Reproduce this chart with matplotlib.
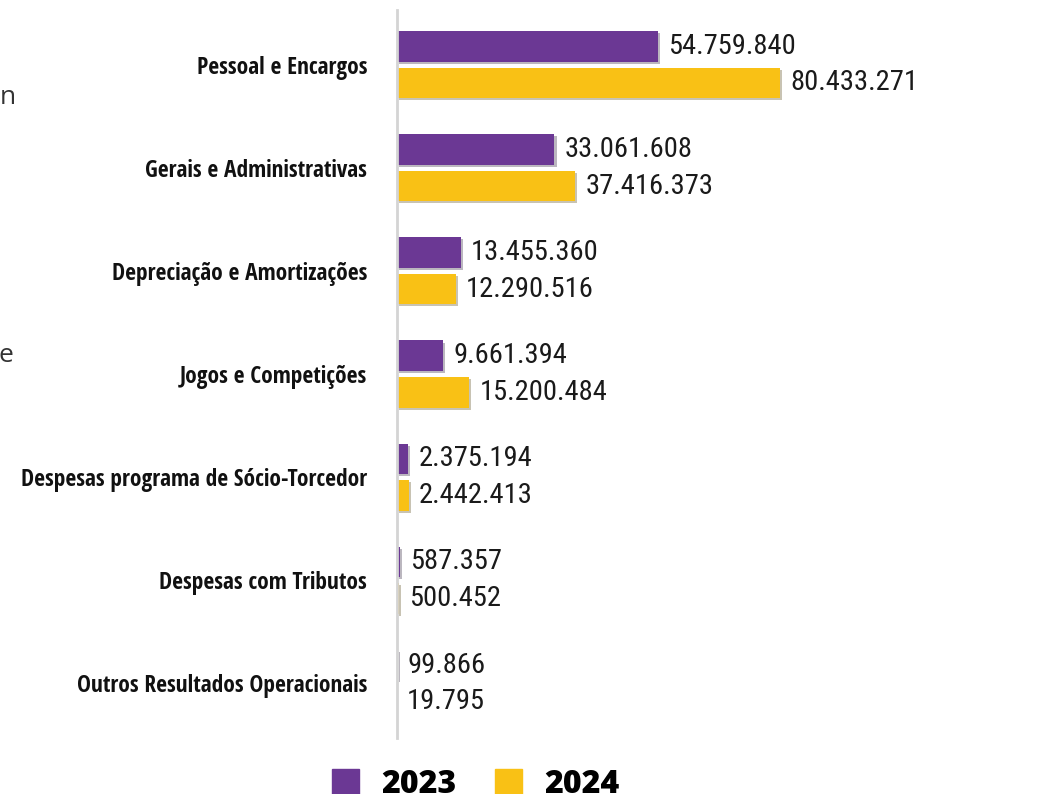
import matplotlib
matplotlib.use("Agg")
import matplotlib.pyplot as plt
import matplotlib.patheffects as pe
from matplotlib.patches import Patch
from matplotlib import font_manager
import numpy as np

categories = [
    "Pessoal e Encargos",
    "Gerais e Administrativas",
    "Depreciação e Amortizações",
    "Jogos e Competições",
    "Despesas programa de Sócio-Torcedor",
    "Despesas com Tributos",
    "Outros Resultados Operacionais",
]
values_2023 = [54759840, 33061608, 13455360, 9661394, 2375194, 587357, 99866]
values_2024 = [80433271, 37416373, 12290516, 15200484, 2442413, 500452, 19795]
series_names = ["2023", "2024"]

PURPLE = "#6b3894"
YELLOW = "#f9c115"

# condensed faces if present, plain ones otherwise
names = {f.name for f in font_manager.fontManager.ttflist}
value_font = "Roboto Condensed" if "Roboto Condensed" in names else "Roboto"
label_font = "Open Sans Condensed" if "Open Sans Condensed" in names else "Open Sans"


def fmt(v):
    return f"{v:,}".replace(",", ".")


fig = plt.figure(figsize=(10.62, 7.94), dpi=100)
W, H = 1062, 794
ax = fig.add_axes([397 / W, 1 - 738 / H, (1062 - 397) / W, (738 - 10) / H])

y = np.arange(len(categories))
h = 0.296
off = 0.177
shadow = [pe.SimplePatchShadow(offset=(1.5, -1.5), alpha=0.3), pe.Normal()]

b1 = ax.barh(y - off, values_2023, height=h, color=PURPLE, path_effects=shadow)
b2 = ax.barh(y + off, values_2024, height=h, color=YELLOW, path_effects=shadow)

# 80.43M bar ends at about x=780 px
ax.set_xlim(0, 80433271 * (1062 - 397) / (780 - 397))
ax.set_ylim(6.53, -0.53)

for bars, vals in [(b1, values_2023), (b2, values_2024)]:
    for bar, v in zip(bars, vals):
        ax.annotate(fmt(v), (bar.get_width(), bar.get_y() + bar.get_height() / 2),
                    xytext=(10, 0), textcoords="offset pixels", va="center", ha="left",
                    fontsize=20.5, family=value_font, color="#1a1a1a")

ax.set_yticks(y)
ax.set_yticklabels(categories, family=label_font, fontweight="bold", fontsize=16.8, color="#111111")
ax.tick_params(axis="y", length=0, pad=21.5)
ax.set_xticks([])
for s in ["top", "right", "bottom"]:
    ax.spines[s].set_visible(False)
ax.spines["left"].set_color("#d4d4d4")
ax.spines["left"].set_linewidth(2)

handles = [Patch(color=PURPLE), Patch(color=YELLOW)]
fig.legend(handles, series_names, loc="center", bbox_to_anchor=(476 / W, 1 - 785 / H),
           ncol=2, frameon=False, handlelength=0.85, handleheight=0.85, handletextpad=0.7,
           columnspacing=1.2, prop={"family": "Open Sans", "weight": 800, "size": 23})

# bits of cut-off text at the left edge
fig.text(0, 1 - 97 / H, "n", fontsize=19, color="#333333", va="center", family="Open Sans")
fig.text(-2 / W, 1 - 355 / H, "e", fontsize=19, color="#333333", va="center", family="Open Sans")

fig.savefig("out.png", dpi=100)
